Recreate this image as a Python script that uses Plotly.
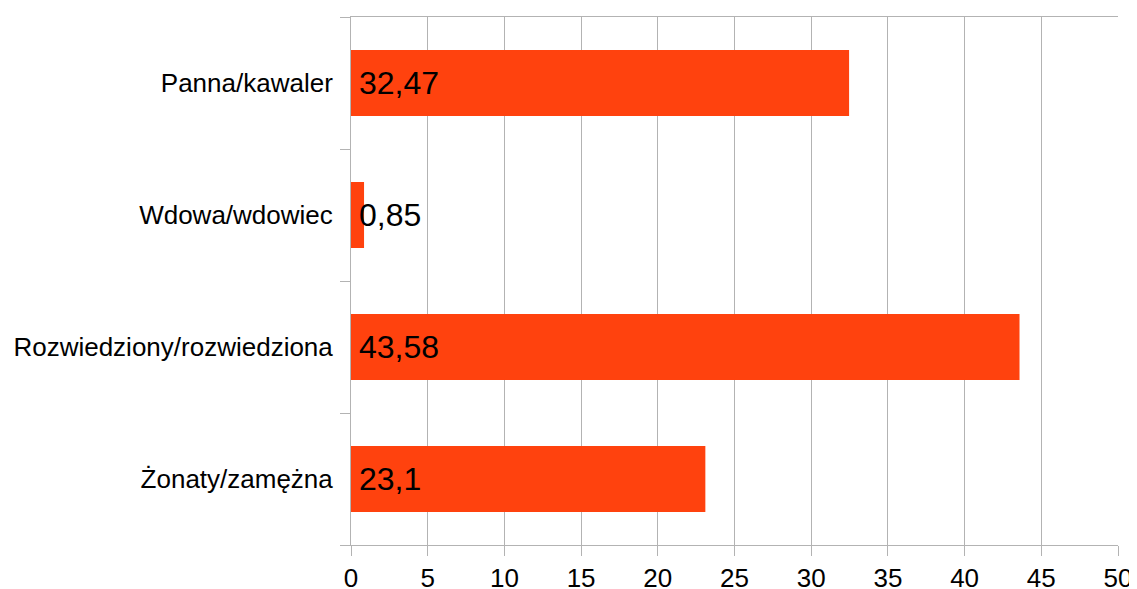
import plotly.graph_objects as go

categories = ["Żonaty/zamężna", "Rozwiedziony/rozwiedziona", "Wdowa/wdowiec", "Panna/kawaler"]
values = [23.1, 43.58, 0.85, 32.47]
x_ticks = [0, 5, 10, 15, 20, 25, 30, 35, 40, 45, 50]

def fmt(v):
    return ("%g" % v).replace(".", ",")

GRAY = "#b3b3b3"
FONT = "Liberation Sans, Arial, sans-serif"

fig = go.Figure(go.Bar(
    x=values, y=categories, orientation="h",
    marker=dict(color="#ff420e", line=dict(width=0)),
    hoverinfo="skip",
))

for c, v in zip(categories, values):
    fig.add_annotation(x=0, y=c, xref="x", yref="y", text=fmt(v), showarrow=False,
                       xanchor="left", yanchor="middle", xshift=6,
                       font=dict(family=FONT, size=32, color="#000000"))

# page body has an 8px margin, so the figure is sized/offset to compensate
fig.update_layout(
    width=1129, height=581,
    margin=dict(l=343, r=19, t=9, b=44, pad=0, autoexpand=False),
    paper_bgcolor="white", plot_bgcolor="white",
    bargap=0.5, showlegend=False,
    font=dict(family=FONT, size=26, color="#000000"),
)
fig.update_xaxes(
    range=[0, 50], tickvals=x_ticks, ticktext=[str(t) for t in x_ticks],
    showgrid=True, gridcolor=GRAY, gridwidth=1, zeroline=False,
    showline=True, linecolor=GRAY, linewidth=1, mirror=True,
    ticks="outside", ticklen=10, tickcolor=GRAY, tickwidth=1,
    tickfont=dict(family=FONT, size=26, color="#000000"),
    automargin=False,
)
fig.update_yaxes(
    type="category", categoryorder="array", categoryarray=categories,
    showgrid=False, zeroline=False,
    showline=True, linecolor=GRAY, linewidth=1,
    ticks="outside", tickson="boundaries", ticklen=10, tickcolor=GRAY, tickwidth=1,
    ticklabelstandoff=12,
    tickfont=dict(family=FONT, size=26, color="#000000"),
    automargin=False,
)

fig.write_html("out.html")
